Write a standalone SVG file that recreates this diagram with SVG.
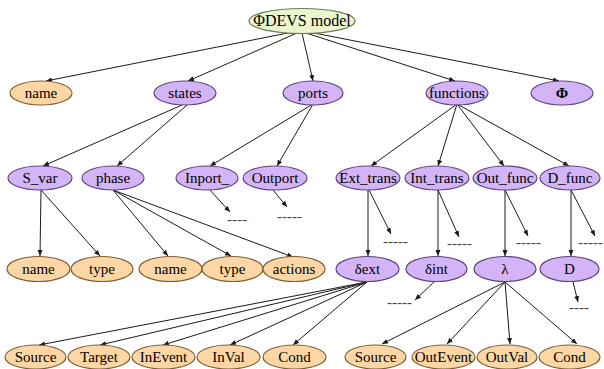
<svg xmlns="http://www.w3.org/2000/svg" width="604" height="369" viewBox="0 0 604 369">
<defs>
<marker id="ah" markerUnits="userSpaceOnUse" markerWidth="7" markerHeight="6" refX="6" refY="2.5" orient="auto">
<path d="M0,0 L6,2.5 L0,5 z" fill="#1a1a1a"/>
</marker>
<style>
.e{stroke:#1a1a1a;stroke-width:1;fill:none;marker-end:url(#ah)}
.p{fill:#D3B4F6;stroke:#5E4480;stroke-width:1.2}
.o{fill:#FCD7A5;stroke:#7E6035;stroke-width:1.2}
.r{fill:#EBF5CF;stroke:#6E7D50;stroke-width:1.2}
.t{font-family:Liberation Serif, DejaVu Serif, serif;font-size:15px;fill:#000;text-anchor:middle}
.d{font-family:Liberation Serif, DejaVu Serif, serif;font-size:15px;text-anchor:start;fill:#444}
</style>
</defs>
<rect width="604" height="369" fill="#fff"/>
<g id="connectors">
<line class="e" x1="293" y1="32" x2="46" y2="81"/>
<line class="e" x1="297" y1="33" x2="188" y2="81"/>
<line class="e" x1="302" y1="33" x2="313" y2="81"/>
<line class="e" x1="306" y1="33" x2="455" y2="81"/>
<line class="e" x1="309" y1="32" x2="559" y2="81"/>
<line class="e" x1="182" y1="105" x2="43" y2="166"/>
<line class="e" x1="187" y1="105" x2="117" y2="166"/>
<line class="e" x1="313" y1="104" x2="210" y2="166"/>
<line class="e" x1="313" y1="104" x2="277" y2="166"/>
<line class="e" x1="457" y1="104" x2="371" y2="166"/>
<line class="e" x1="457" y1="104" x2="438" y2="166"/>
<line class="e" x1="457" y1="104" x2="504" y2="166"/>
<line class="e" x1="457" y1="104" x2="569" y2="166"/>
<line class="e" x1="41" y1="190" x2="40" y2="256"/>
<line class="e" x1="41" y1="190" x2="100" y2="256"/>
<line class="e" x1="113" y1="190" x2="168" y2="256"/>
<line class="e" x1="113" y1="190" x2="231" y2="256"/>
<line class="e" x1="113" y1="190" x2="293" y2="257"/>
<line class="e" x1="210" y1="190" x2="230" y2="212"/>
<line class="e" x1="273" y1="190" x2="287" y2="207"/>
<line class="e" x1="368" y1="190" x2="368" y2="256"/>
<line class="e" x1="369" y1="190" x2="391" y2="234"/>
<line class="e" x1="438" y1="190" x2="438" y2="256"/>
<line class="e" x1="438" y1="190" x2="459" y2="237"/>
<line class="e" x1="505" y1="190" x2="505" y2="256"/>
<line class="e" x1="505" y1="190" x2="528" y2="236"/>
<line class="e" x1="571" y1="190" x2="571" y2="256"/>
<line class="e" x1="571" y1="190" x2="595" y2="236"/>
<line class="e" x1="367" y1="282" x2="39" y2="345"/>
<line class="e" x1="367" y1="282" x2="100" y2="345"/>
<line class="e" x1="367" y1="282" x2="163" y2="345"/>
<line class="e" x1="367" y1="282" x2="230" y2="345"/>
<line class="e" x1="367" y1="282" x2="293" y2="345"/>
<line class="e" x1="435" y1="281" x2="415" y2="300"/>
<line class="e" x1="573" y1="282" x2="578" y2="302"/>
<line class="e" x1="505" y1="282" x2="382" y2="344"/>
<line class="e" x1="505" y1="282" x2="447" y2="344"/>
<line class="e" x1="505" y1="282" x2="510" y2="344"/>
<line class="e" x1="505" y1="282" x2="577" y2="344"/>
<text class="d" x="227" y="224">----</text>
<text class="d" x="277" y="221">-----</text>
<text class="d" x="383" y="246">-----</text>
<text class="d" x="447" y="248">-----</text>
<text class="d" x="516" y="247">-----</text>
<text class="d" x="578" y="247">-----</text>
<text class="d" x="387" y="307">-----</text>
<text class="d" x="569" y="312">----</text>
</g>
<g id="root"><ellipse class="r" cx="302" cy="21" rx="53" ry="12.5"/><text class="t" x="302" y="26" style="font-size:16px">ΦDEVS model</text></g>
<g id="name"><ellipse class="o" cx="41" cy="93" rx="31" ry="12"/><text class="t" x="41" y="98">name</text></g>
<g id="states"><ellipse class="p" cx="185" cy="93" rx="31" ry="12"/><text class="t" x="185" y="98">states</text></g>
<g id="ports"><ellipse class="p" cx="313" cy="93" rx="30" ry="12"/><text class="t" x="313" y="98">ports</text></g>
<g id="functions"><ellipse class="p" cx="457" cy="93" rx="31" ry="12"/><text class="t" x="457" y="98">functions</text></g>
<g id="phi"><ellipse class="p" cx="562" cy="93" rx="31" ry="12"/><text class="t" x="562" y="98" font-weight="bold">Φ</text></g>
<g id="s_var"><ellipse class="p" cx="40" cy="178" rx="32" ry="12"/><text class="t" x="40" y="183">S_var</text></g>
<g id="phase"><ellipse class="p" cx="113" cy="178" rx="31" ry="12"/><text class="t" x="113" y="183">phase</text></g>
<g id="inport"><ellipse class="p" cx="207" cy="178" rx="31" ry="12"/><text class="t" x="207" y="183">Inport_</text></g>
<g id="outport"><ellipse class="p" cx="275" cy="178" rx="32" ry="12"/><text class="t" x="275" y="183">Outport</text></g>
<g id="ext_trans"><ellipse class="p" cx="368" cy="178" rx="32" ry="12"/><text class="t" x="368" y="183">Ext_trans</text></g>
<g id="int_trans"><ellipse class="p" cx="437" cy="178" rx="32" ry="12"/><text class="t" x="437" y="183">Int_trans</text></g>
<g id="out_func"><ellipse class="p" cx="505" cy="178" rx="32" ry="12"/><text class="t" x="505" y="183">Out_func</text></g>
<g id="d_func"><ellipse class="p" cx="570" cy="178" rx="30" ry="12"/><text class="t" x="570" y="183">D_func</text></g>
<g id="svar_name"><ellipse class="o" cx="38.5" cy="269" rx="31.5" ry="12.5"/><text class="t" x="38.5" y="274">name</text></g>
<g id="svar_type"><ellipse class="o" cx="102" cy="269" rx="31" ry="12.5"/><text class="t" x="102" y="274">type</text></g>
<g id="phase_name"><ellipse class="o" cx="170.5" cy="269" rx="31.5" ry="12.5"/><text class="t" x="170.5" y="274">name</text></g>
<g id="phase_type"><ellipse class="o" cx="232.5" cy="269" rx="30.5" ry="12.5"/><text class="t" x="232.5" y="274">type</text></g>
<g id="actions"><ellipse class="o" cx="294" cy="269" rx="31" ry="12.5"/><text class="t" x="294" y="274">actions</text></g>
<g id="dext"><ellipse class="p" cx="367.5" cy="269" rx="31.5" ry="12.5"/><text class="t" x="367.5" y="274">δext</text></g>
<g id="dint"><ellipse class="p" cx="436.5" cy="269" rx="30.5" ry="12.5"/><text class="t" x="436.5" y="274">δint</text></g>
<g id="lambda"><ellipse class="p" cx="505" cy="269" rx="31" ry="12.5"/><text class="t" x="505" y="274">λ</text></g>
<g id="d"><ellipse class="p" cx="569.5" cy="269" rx="29.5" ry="12.5"/><text class="t" x="569.5" y="274">D</text></g>
<g id="source1"><ellipse class="o" cx="35.5" cy="357" rx="30.5" ry="12"/><text class="t" x="35.5" y="362">Source</text></g>
<g id="target"><ellipse class="o" cx="99" cy="357" rx="31" ry="12"/><text class="t" x="99" y="362">Target</text></g>
<g id="inevent"><ellipse class="o" cx="163.5" cy="357" rx="31.5" ry="12"/><text class="t" x="163.5" y="362">InEvent</text></g>
<g id="inval"><ellipse class="o" cx="228.5" cy="357" rx="31.5" ry="12"/><text class="t" x="228.5" y="362">InVal</text></g>
<g id="cond1"><ellipse class="o" cx="294.5" cy="357" rx="31.5" ry="12"/><text class="t" x="294.5" y="362">Cond</text></g>
<g id="source2"><ellipse class="o" cx="375.5" cy="357" rx="30.5" ry="12"/><text class="t" x="375.5" y="362">Source</text></g>
<g id="outevent"><ellipse class="o" cx="443.5" cy="357" rx="31.5" ry="12"/><text class="t" x="443.5" y="362">OutEvent</text></g>
<g id="outval"><ellipse class="o" cx="507" cy="357" rx="30" ry="12"/><text class="t" x="507" y="362">OutVal</text></g>
<g id="cond2"><ellipse class="o" cx="569.5" cy="357" rx="30.5" ry="12"/><text class="t" x="569.5" y="362">Cond</text></g>
</svg>
